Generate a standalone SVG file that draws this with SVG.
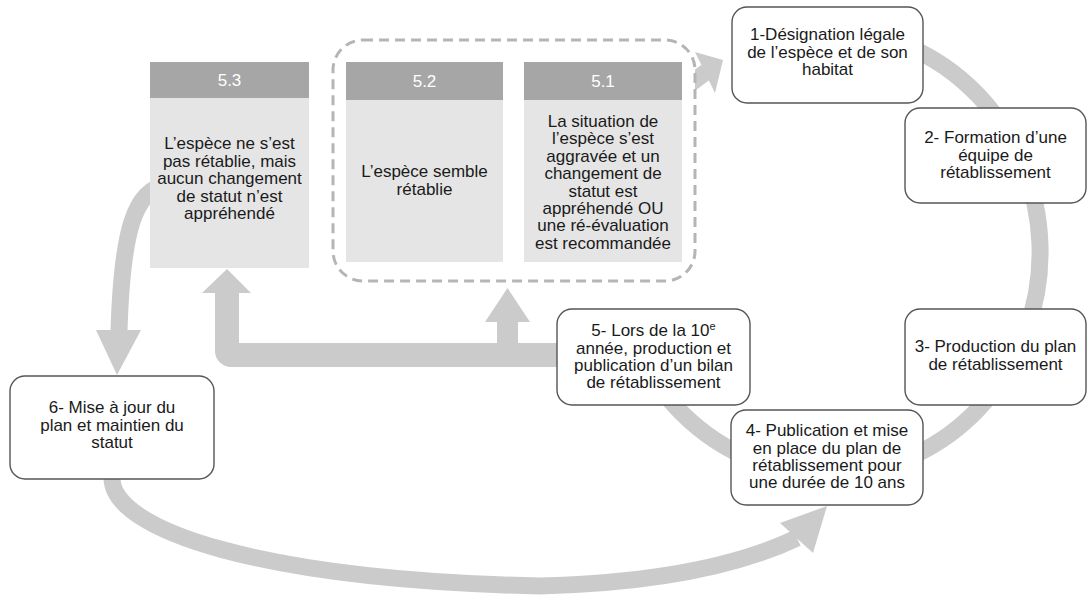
<svg xmlns="http://www.w3.org/2000/svg" width="1088" height="600" viewBox="0 0 1088 600">
<style>
text{font-family:"Liberation Sans",Arial,sans-serif;font-size:17px;fill:#1a1a1a;text-anchor:middle}
.node{fill:#fff;stroke:#555;stroke-width:1.4}
.hdr{fill:#a6a6a6}
.body{fill:#e5e5e5}
.ht{fill:#fff}
.band{fill:none;stroke:#cbcbcb;stroke-width:17}
.bar{fill:none;stroke:#cbcbcb}
.head{fill:#cbcbcb}
.dash{fill:#fff;stroke:#b5b5b5;stroke-width:3;stroke-dasharray:10 6}
</style>
<rect width="1088" height="600" fill="#fff"/>
<g id="connectors">
<path class="band" d="M 745 48 A 212 222 0 1 1 635.5 345"/>
<path class="band" d="M 680 93 A 212 222 0 0 1 706 72"/>
<polygon class="head" points="695,52 723,60 715,93"/>
<path class="bar" stroke-width="24" d="M 560 355 H 231 A 4 4 0 0 1 227 351 V 292"/>
<polygon class="head" points="202,293 251,293 227,269"/>
<path class="bar" stroke-width="21" d="M 507.5 356 V 321"/>
<polygon class="head" points="485,322 530,322 507.5,288"/>
<path class="band" stroke-width="20" d="M 165 186 C 135 190, 122 230, 119 331"/>
<polygon class="head" points="96,330 141,330 117,375"/>
<path class="band" d="M 112 478 C 112 530, 260 580, 540 586 C 660 583, 740 565, 797 538"/>
<polygon class="head" points="780,523 827,506 813,553"/>
</g>
<g id="group-5">
<rect class="dash" x="333" y="40" width="362" height="241" rx="30"/>
</g>
<g id="n53">
<rect class="body" x="150" y="62" width="159" height="206"/>
<rect class="hdr" x="150" y="62" width="159" height="36"/>
<text class="ht" x="229.5" y="86">5.3</text>
<text x="229.5" y="149">L’espèce ne s’est</text>
<text x="229.5" y="166.5">pas rétablie, mais</text>
<text x="229.5" y="184">aucun changement</text>
<text x="229.5" y="201.5">de statut n’est</text>
<text x="229.5" y="219">appréhendé</text>
</g>
<g id="n52">
<rect class="body" x="346" y="62" width="157" height="200"/>
<rect class="hdr" x="346" y="62" width="157" height="38"/>
<text class="ht" x="424.5" y="87">5.2</text>
<text x="424.5" y="177">L’espèce semble</text>
<text x="424.5" y="194.5">rétablie</text>
</g>
<g id="n51">
<rect class="body" x="524" y="62" width="158" height="200"/>
<rect class="hdr" x="524" y="62" width="158" height="38"/>
<text class="ht" x="603" y="87">5.1</text>
<text x="603" y="127">La situation de</text>
<text x="603" y="144.4">l’espèce s’est</text>
<text x="603" y="161.8">aggravée et un</text>
<text x="603" y="179.2">changement de</text>
<text x="603" y="196.6">statut est</text>
<text x="603" y="214">appréhendé OU</text>
<text x="603" y="231.4">une ré-évaluation</text>
<text x="603" y="248.8">est recommandée</text>
</g>
<g id="n1">
<rect class="node" x="732" y="7" width="191" height="96" rx="15"/>
<text x="827.5" y="40">1-Désignation légale</text>
<text x="827.5" y="57.5">de l’espèce et de son</text>
<text x="827.5" y="75">habitat</text>
</g>
<g id="n2">
<rect class="node" x="905" y="108" width="181" height="95" rx="15"/>
<text x="995.5" y="143">2- Formation d’une</text>
<text x="995.5" y="161">équipe de</text>
<text x="995.5" y="178">rétablissement</text>
</g>
<g id="n3">
<rect class="node" x="905" y="309" width="181" height="96" rx="15"/>
<text x="995.5" y="352">3- Production du plan</text>
<text x="995.5" y="370">de rétablissement</text>
</g>
<g id="n4">
<rect class="node" x="731" y="410" width="192" height="95" rx="15"/>
<text x="827" y="436">4- Publication et mise</text>
<text x="827" y="453.5">en place du plan de</text>
<text x="827" y="471">rétablissement pour</text>
<text x="827" y="488">une durée de 10 ans</text>
</g>
<g id="n5">
<rect class="node" x="557" y="309" width="193" height="96" rx="15"/>
<text x="653.5" y="336">5- Lors de la 10<tspan dy="-6" font-size="11">e</tspan></text>
<text x="653.5" y="353.5">année, production et</text>
<text x="653.5" y="371">publication d’un bilan</text>
<text x="653.5" y="388">de rétablissement</text>
</g>
<g id="n6">
<rect class="node" x="10" y="376" width="204" height="103" rx="15"/>
<text x="112" y="413">6- Mise à jour du</text>
<text x="112" y="430.5">plan et maintien du</text>
<text x="112" y="448">statut</text>
</g>
</svg>
